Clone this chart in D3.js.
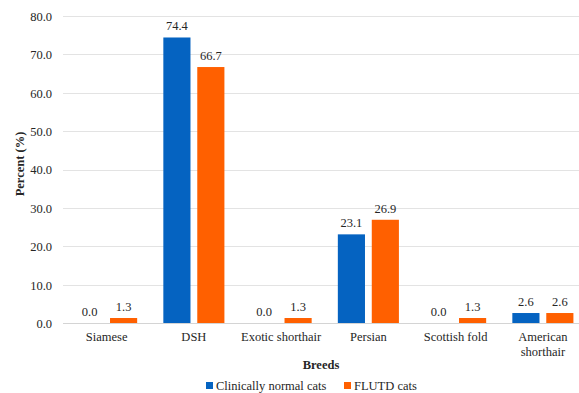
<!DOCTYPE html>
<html><head><meta charset="utf-8">
<script src="https://cdn.jsdelivr.net/npm/d3@7"></script>
<style>
html,body{margin:0;padding:0;background:#fff;}
svg{display:block;}
</style></head>
<body>
<svg id="chart" width="579" height="393"></svg>
<script>
const categories = ["Siamese","DSH","Exotic shorthair","Persian","Scottish fold","American shorthair"];
const seriesNames = ["Clinically normal cats","FLUTD cats"];
const normalCats = [0.0, 74.4, 0.0, 23.1, 0.0, 2.6];
const flutdCats = [1.3, 66.7, 1.3, 26.9, 1.3, 2.6];
const yTicks = [0,10,20,30,40,50,60,70,80];
const colors = ["#0563C1","#FF6000"];

(function(){
const FONT = "'Liberation Serif', 'Times New Roman', Times, 'DejaVu Serif', serif";
const svg = d3.select("#chart");
const W = 579;
const mLeft = 63, mRight = 586.5, mTop = 16, mBottom = 323;

const x = d3.scaleBand().domain(categories).range([mLeft, mRight]).paddingInner(0.3).paddingOuter(0.15);
const xs = d3.scaleBand().domain(seriesNames).range([0, x.bandwidth()]).paddingInner(0.2);
const y = d3.scaleLinear().domain([0,80]).range([mBottom, mTop]);

svg.append("g").selectAll("line").data(yTicks).join("line")
  .attr("x1", mLeft).attr("x2", W)
  .attr("y1", d => Math.round(y(d))+0.5).attr("y2", d => Math.round(y(d))+0.5)
  .attr("stroke", d => d===0 ? "#d4d4d4" : "#e3e3e3").attr("stroke-width", 1);

const yAxis = d3.axisLeft(y).tickValues(yTicks).tickFormat(d3.format(".1f")).tickSize(0).tickPadding(0);
const gy = svg.append("g").attr("transform", `translate(${52},0)`).call(yAxis);
gy.select(".domain").remove();
gy.attr("font-family", null).attr("font-size", null);
gy.selectAll("text").style("font-size", "12.5px").style("fill", "#262626")
  .style("font-family", FONT).attr("dy", "0.35em");

const data = categories.map((c,i) => ({cat:c, vals:[normalCats[i], flutdCats[i]]}));

const groups = svg.append("g").selectAll("g").data(data).join("g")
  .attr("transform", d => `translate(${x(d.cat)},0)`);

groups.selectAll("rect").data(d => d.vals.map((v,j) => ({v, s:seriesNames[j], j})))
  .join("rect")
  .attr("x", d => xs(d.s)).attr("width", xs.bandwidth())
  .attr("y", d => y(d.v)).attr("height", d => y(0) - y(d.v))
  .attr("fill", d => colors[d.j]);

groups.selectAll("text.val").data(d => d.vals.map((v,j) => ({v, s:seriesNames[j], j})))
  .join("text").attr("class","val")
  .attr("x", d => xs(d.s) + xs.bandwidth()/2)
  .attr("y", d => y(d.v) - 7)
  .attr("text-anchor","middle")
  .style("font-family", FONT).style("font-size","12.5px").style("fill","#262626")
  .text(d => d3.format(".1f")(d.v));

const xLabelLines = {"American shorthair":["American","shorthair"]};
const gx = svg.append("g");
categories.forEach(c => {
  const lines = xLabelLines[c] || [c];
  const t = gx.append("text").attr("x", x(c)+x.bandwidth()/2).attr("y", 341)
    .attr("text-anchor","middle")
    .style("font-family", FONT).style("font-size","12.5px").style("fill","#262626");
  lines.forEach((l,i) => t.append("tspan").attr("x", x(c)+x.bandwidth()/2).attr("dy", i===0?0:14.5).text(l));
});

svg.append("text").attr("x", 321).attr("y", 369).attr("text-anchor","middle")
  .style("font-family", FONT).style("font-size","12.5px").style("font-weight","bold").style("fill","#262626")
  .text("Breeds");
svg.append("text").attr("transform", "translate(24,164) rotate(-90)").attr("text-anchor","middle")
  .style("font-family", FONT).style("font-size","12.5px").style("font-weight","bold").style("fill","#262626")
  .text("Percent (%)");

const legendX = [206, 344];
const lg = svg.append("g");
seriesNames.forEach((s,i) => {
  lg.append("rect").attr("x", legendX[i]).attr("y", 382).attr("width", 7).attr("height", 7).attr("fill", colors[i]);
  lg.append("text").attr("x", legendX[i]+10).attr("y", 390)
    .style("font-family", FONT).style("font-size","12.5px").style("fill","#262626").text(s);
});
})();
</script>
</body></html>
